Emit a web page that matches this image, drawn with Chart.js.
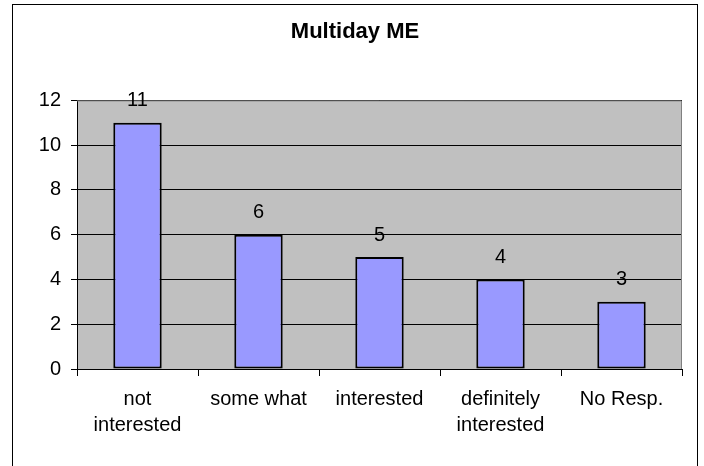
<!DOCTYPE html>
<html>
<head>
<meta charset="utf-8">
<script src="https://cdn.jsdelivr.net/npm/chart.js@4"></script>
<style>
  html, body { margin: 0; padding: 0; background: #fff; }
  #wrap { width: 704px; height: 466px; }
</style>
</head>
<body>
<div id="wrap"><canvas id="chart" width="704" height="466"></canvas></div>
<script>
// Chart data
const categories = [["not", "interested"], ["some what"], ["interested"], ["definitely", "interested"], ["No Resp."]];
const counts = [11, 6, 5, 4, 3];
const yTicks = [0, 2, 4, 6, 8, 10, 12];

const FONT = "'Liberation Sans', Arial, sans-serif";

// Outer frame, plot background and value labels (Excel look)
const excelLook = {
  id: "excelLook",
  beforeDraw(chart) {
    const { ctx, chartArea: a } = chart;
    ctx.save();
    ctx.fillStyle = "#fff";
    ctx.fillRect(0, 0, chart.width, chart.height);
    ctx.strokeStyle = "#000";
    ctx.lineWidth = 1;
    ctx.strokeRect(12.5, 4.5, 685, 480);
    ctx.fillStyle = "#c0c0c0";
    ctx.fillRect(a.left, a.top, a.right - a.left, a.bottom - a.top);
    ctx.restore();
  },
  afterDatasetsDraw(chart) {
    const { ctx, chartArea: a } = chart;
    ctx.save();
    // gray plot border top / right
    ctx.strokeStyle = "#808080";
    ctx.lineWidth = 1;
    ctx.beginPath();
    ctx.moveTo(a.left, a.top + 0.5);
    ctx.lineTo(a.right - 0.5, a.top + 0.5);
    ctx.lineTo(a.right - 0.5, a.bottom);
    ctx.stroke();
    // value labels above bars
    ctx.fillStyle = "#000";
    ctx.font = "20px " + FONT;
    ctx.textAlign = "center";
    ctx.textBaseline = "middle";
    chart.getDatasetMeta(0).data.forEach((bar, i) => {
      ctx.fillText(String(counts[i]), bar.x, bar.y - 22);
    });
    ctx.restore();
  }
};

new Chart(document.getElementById("chart"), {
  type: "bar",
  data: {
    labels: categories,
    datasets: [{
      data: counts,
      backgroundColor: "#9999ff",
      borderColor: "#000",
      borderWidth: 2,
      borderSkipped: false,
      categoryPercentage: 1,
      barPercentage: 0.4
    }]
  },
  options: {
    responsive: false,
    animation: false,
    layout: { padding: { left: 6, right: 0, top: 0, bottom: 0 } },
    plugins: {
      legend: { display: false },
      tooltip: { enabled: false },
      title: {
        display: true,
        text: "Multiday ME",
        color: "#000",
        font: { family: FONT, size: 22, weight: "bold", lineHeight: 1.2 },
        padding: { top: 19, bottom: 55 }
      }
    },
    scales: {
      x: {
        grid: { offset: true, drawOnChartArea: false, color: "#000", tickLength: 7 },
        border: { color: "#000" },
        ticks: { color: "#000", font: { family: FONT, size: 20, lineHeight: 1.3 }, padding: 10, maxRotation: 0, autoSkip: false },
        afterFit(scale) { scale.height = 97; }
      },
      y: {
        min: 0,
        max: 12,
        afterBuildTicks(scale) { scale.ticks = yTicks.map(v => ({ value: v })); },
        grid: { color: "#000", tickLength: 6 },
        border: { color: "#000" },
        ticks: { color: "#000", font: { family: FONT, size: 20 }, padding: 10 },
        afterFit(scale) { scale.width = 71; }
      },
      // empty right margin so the title centres on the whole frame
      yRight: {
        position: "right",
        min: 0,
        max: 12,
        grid: { drawOnChartArea: false, drawTicks: false },
        border: { display: false },
        ticks: { display: false },
        afterFit(scale) { scale.width = 22; }
      }
    }
  },
  plugins: [excelLook]
});
</script>
</body>
</html>
